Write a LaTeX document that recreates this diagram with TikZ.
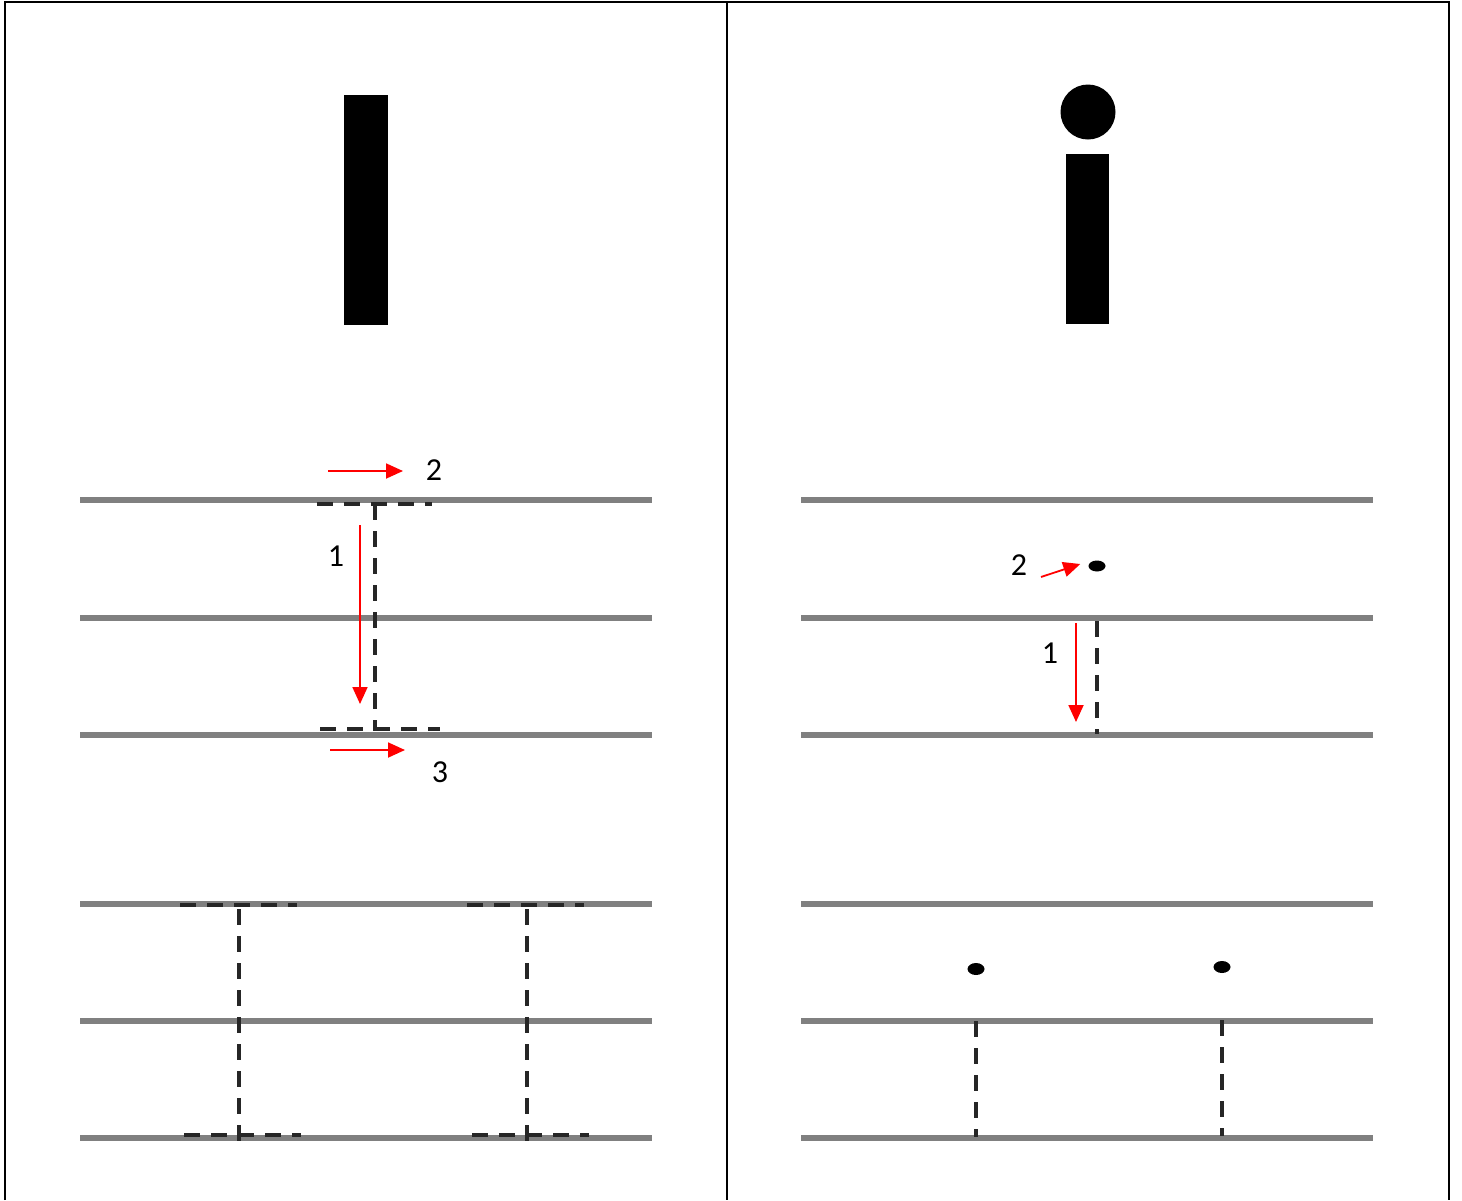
\documentclass[tikz,border=0pt]{standalone}
\usepackage{fontspec}
\setmainfont{Carlito}
\usetikzlibrary{arrows.meta,shapes.geometric}
\definecolor{guide}{HTML}{808080}
\definecolor{dash}{HTML}{262626}
\tikzset{
  guideline/.style={draw=guide,line width=5.5pt},
  frame/.style={draw=black,line width=2.6pt},
  dashline/.style={draw=dash,line width=3.6pt,dash pattern=on 16pt off 11pt},
  redarrow/.style={draw=red,line width=1.8pt,-{Triangle[length=17pt,width=15pt]}},
  lbl/.style={font=\fontsize{32}{34}\selectfont,inner sep=0pt},
  blk/.style={fill=black,draw=none},
}
\begin{document}
\begin{tikzpicture}[x=1pt,y=-1pt]
\useasboundingbox (0,0) rectangle (1462,1200);
% frame
\coordinate (fbl) at (5,1200); \coordinate (ftl) at (5,2);
\coordinate (ftr) at (1449,2); \coordinate (fbr) at (1449,1200);
\coordinate (fmt) at (727,2); \coordinate (fmb) at (727,1200);
\draw[frame] (fbl) -- (ftl) -- (ftr) -- (fbr);
\draw[frame] (fmt) -- (fmb);
% letters
\fill[blk] (344,95) rectangle (388,325);
\fill[blk] (1066,154) rectangle (1109,324);
\fill[blk] (1088,112) circle (27.5);
% guide lines
\foreach \y/\n in {500/a,618/b,735/c,904/d,1021/e,1138/f}{
  \coordinate (L\n1) at (80,\y); \coordinate (L\n2) at (652,\y);
  \draw[guideline] (L\n1) -- (L\n2);
  \coordinate (R\n1) at (801,\y); \coordinate (R\n2) at (1373,\y);
  \draw[guideline] (R\n1) -- (R\n2);
}
% left upper I
\coordinate (t1) at (317,504); \coordinate (t2) at (432,504);
\coordinate (v1) at (375,504); \coordinate (v2) at (375,731);
\coordinate (b1) at (320,729); \coordinate (b2) at (440,729);
\draw[dashline] (t1) -- (t2);
\draw[dashline] (v1) -- (v2);
\draw[dashline] (b1) -- (b2);
\coordinate (a1s) at (360,525); \coordinate (a1e) at (360,704);
\draw[redarrow] (a1s) -- (a1e);
\node[lbl] (n1) at (336,556) {1};
\coordinate (a2s) at (328,471); \coordinate (a2e) at (403,471);
\draw[redarrow] (a2s) -- (a2e);
\node[lbl] (n2) at (434,470) {2};
\coordinate (a3s) at (330,750); \coordinate (a3e) at (405,750);
\draw[redarrow] (a3s) -- (a3e);
\node[lbl] (n3) at (440,772) {3};
% left lower practice
\foreach \x/\tl/\bl/\m in {239/180/184/p,527/467/472/q}{
  \coordinate (\m t1) at (\tl,905); \coordinate (\m t2) at (\tl+117,905);
  \coordinate (\m v1) at (\x,909); \coordinate (\m v2) at (\x,1141);
  \coordinate (\m b1) at (\bl,1135); \coordinate (\m b2) at (\bl+117,1135);
  \draw[dashline] (\m t1) -- (\m t2);
  \draw[dashline] (\m v1) -- (\m v2);
  \draw[dashline] (\m b1) -- (\m b2);
}
% right upper i
\node[blk,ellipse,minimum width=17pt,minimum height=11pt,inner sep=0pt] (dot) at (1097,566) {};
\coordinate (rv1) at (1097,621); \coordinate (rv2) at (1097,734);
\draw[dashline] (rv1) -- (rv2);
\coordinate (r1s) at (1076,623); \coordinate (r1e) at (1076,722);
\draw[redarrow] (r1s) -- (r1e);
\node[lbl] (m1) at (1050,653) {1};
\coordinate (r2s) at (1041,577);
\draw[redarrow] (r2s) -- ([xshift=-8pt,yshift=2pt]dot.west);
\node[lbl] (m2) at (1019,565) {2};
% right lower practice
\node[blk,ellipse,minimum width=17pt,minimum height=12pt,inner sep=0pt] (d1) at (976,969) {};
\node[blk,ellipse,minimum width=17pt,minimum height=12pt,inner sep=0pt] (d2) at (1222,967) {};
\coordinate (s1a) at (976,1021); \coordinate (s1b) at (976,1137);
\coordinate (s2a) at (1222,1020); \coordinate (s2b) at (1222,1136);
\draw[dashline] (s1a) -- (s1b);
\draw[dashline] (s2a) -- (s2b);
\end{tikzpicture}
\end{document}
